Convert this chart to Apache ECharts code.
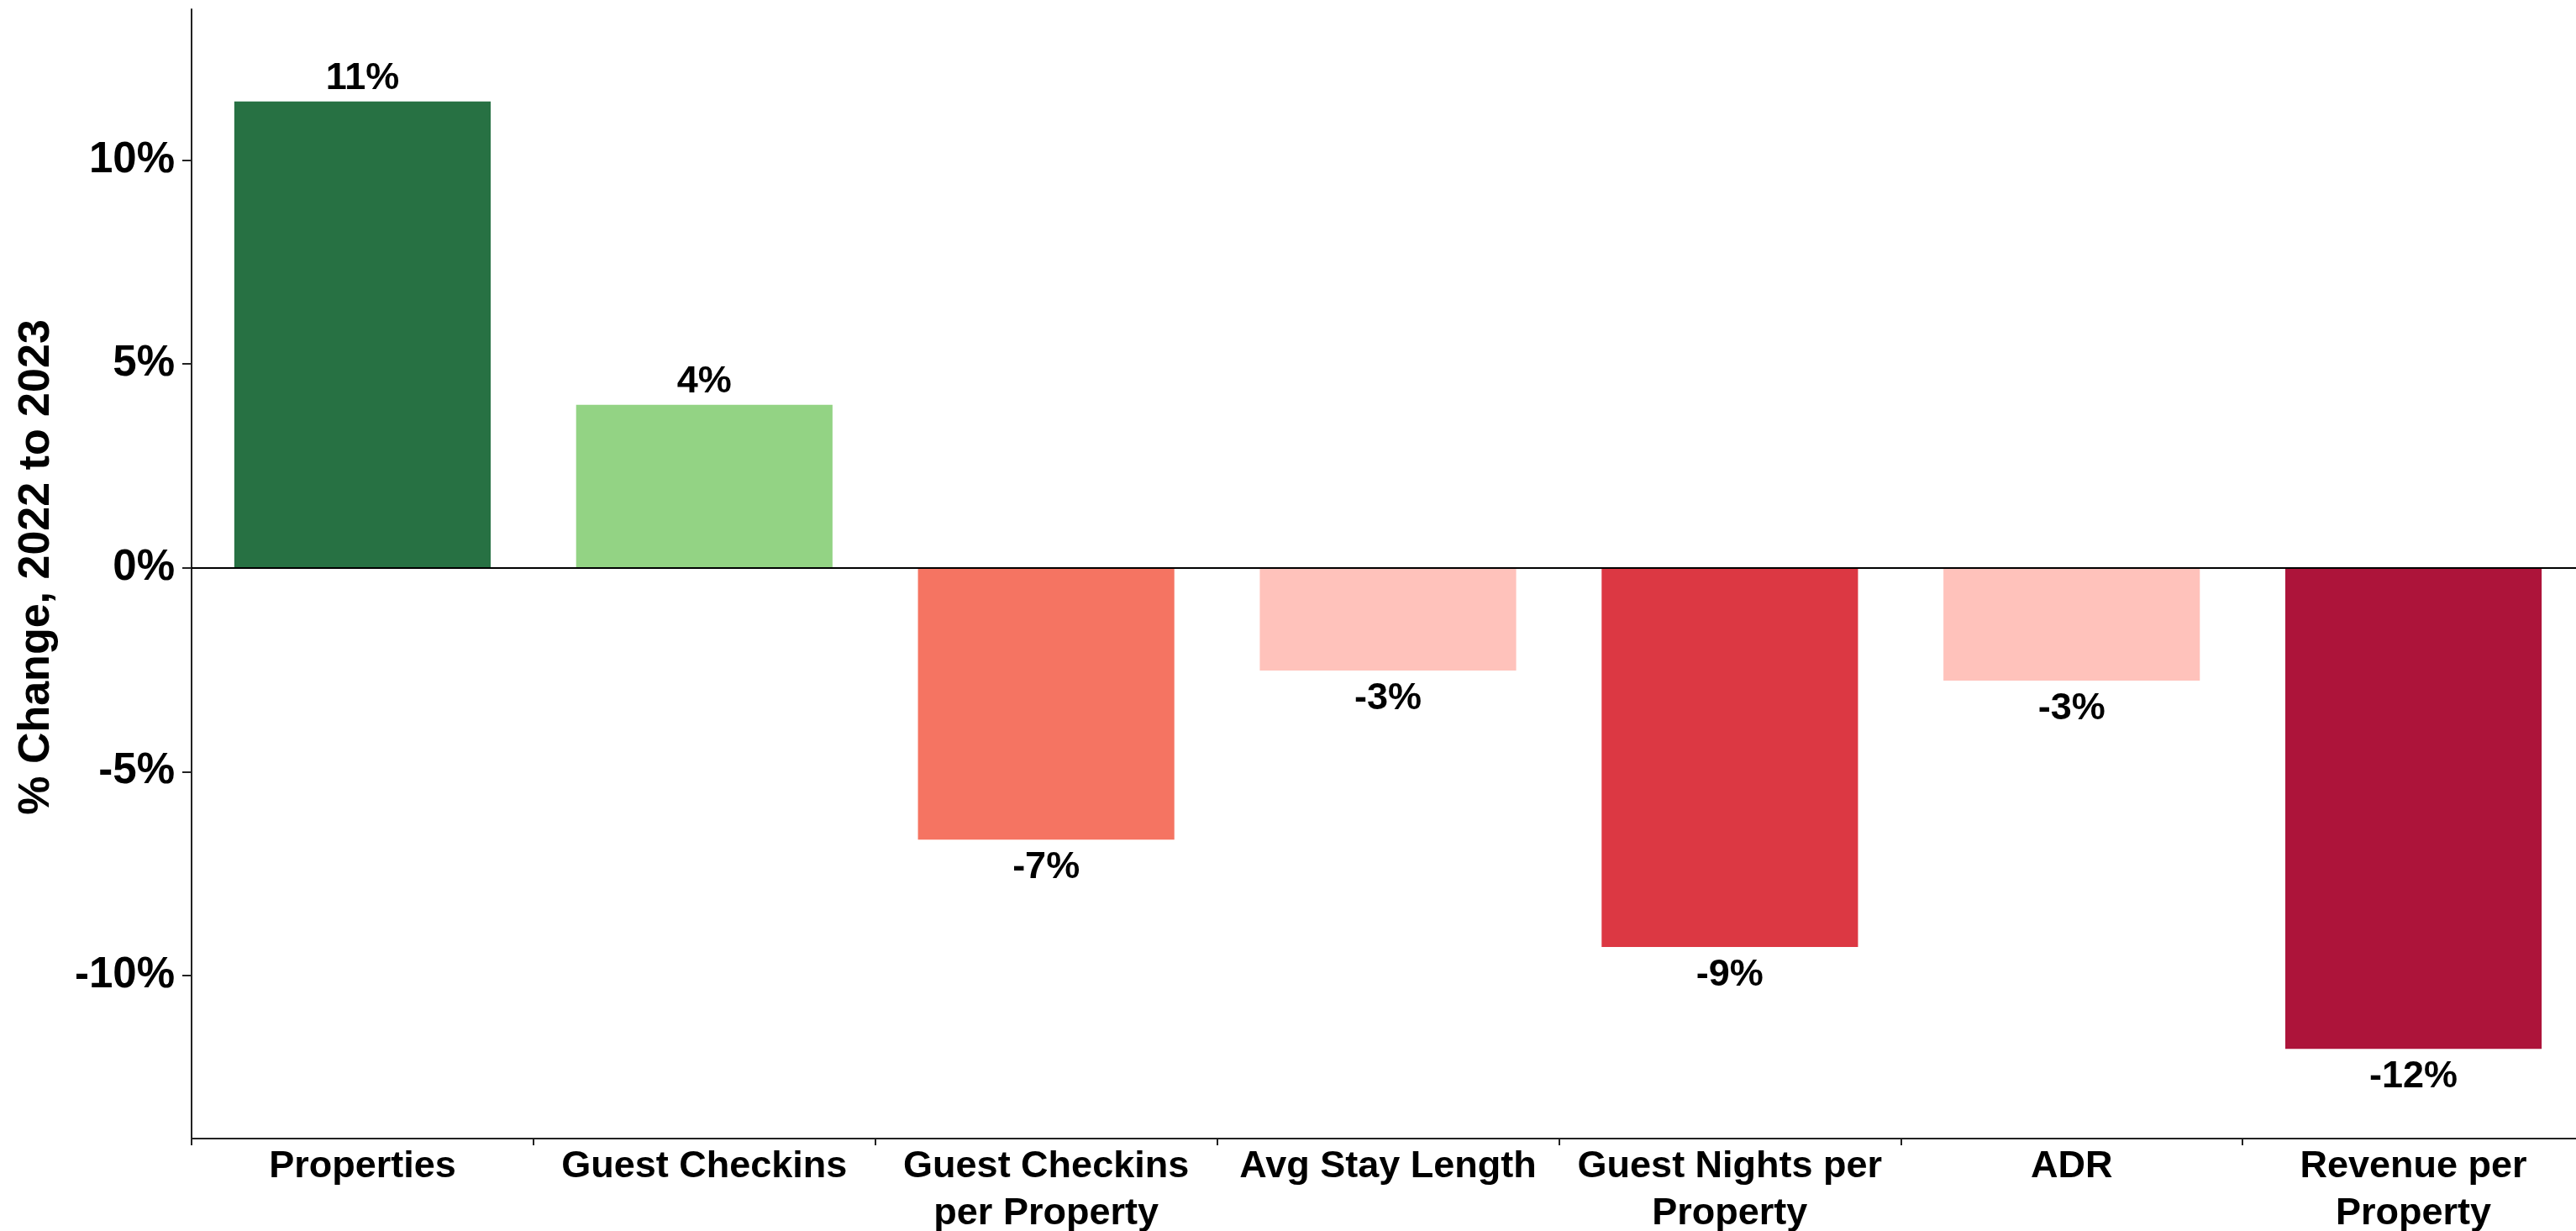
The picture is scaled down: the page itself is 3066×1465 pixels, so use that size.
<!DOCTYPE html>
<html>
<head>
<meta charset="utf-8">
<title>% Change, 2022 to 2023</title>
<script src="https://cdn.jsdelivr.net/npm/echarts@6/dist/echarts.min.js"></script>
<style>
  html, body { margin: 0; padding: 0; background: #ffffff; }
  #chart { width: 3066px; height: 1465px; }
</style>
</head>
<body>
<div id="chart"></div>
<script>
// Year-over-year change by metric
const categories = [
  'Properties',
  'Guest Checkins',
  'Guest Checkins\nper Property',
  'Avg Stay Length',
  'Guest Nights per\nProperty',
  'ADR',
  'Revenue per\nProperty'
];
const changePct = [11.44, 4.0, -6.67, -2.52, -9.3, -2.77, -11.8];
const barColors = ['#277143', '#93d384', '#f57462', '#ffc2bb', '#dc3843', '#ffc2bb', '#ad143a'];
const yTicks = [-10, -5, 0, 5, 10];

const FONT = '"Liberation Sans", Arial, Helvetica, sans-serif';
const AXIS_COLOR = '#222222';

const chart = echarts.init(document.getElementById('chart'), null, { renderer: 'canvas' });

const seriesData = changePct.map((v, i) => ({
  value: v,
  itemStyle: { color: barColors[i] },
  label: {
    position: v >= 0 ? 'top' : 'bottom',
    distance: v >= 0 ? 5 : 11
  }
}));

chart.setOption({
  animation: false,
  backgroundColor: '#ffffff',
  // plot area runs slightly past the right edge of the canvas
  grid: { left: 228, top: 11, width: 2848, height: 1344, containLabel: false, outerBoundsMode: 'none' },
  xAxis: {
    type: 'category',
    data: categories,
    axisLine: { onZero: false, lineStyle: { color: AXIS_COLOR, width: 2 } },
    axisTick: { show: true, length: 8, lineStyle: { color: AXIS_COLOR, width: 2 } },
    axisLabel: {
      interval: 0,
      margin: 6,
      color: '#000000',
      fontFamily: FONT,
      fontWeight: 'bold',
      fontSize: 45,
      lineHeight: 56
    },
    splitLine: { show: false }
  },
  yAxis: {
    type: 'value',
    min: -14,
    max: 13.7,
    name: '% Change, 2022 to 2023',
    nameLocation: 'middle',
    nameGap: 158,
    nameTextStyle: {
      color: '#000000',
      fontFamily: FONT,
      fontWeight: 'bold',
      fontSize: 52,
      padding: [0, 0, 0, 16]
    },
    axisLine: { show: true, lineStyle: { color: AXIS_COLOR, width: 2 } },
    axisTick: { show: true, length: 11, customValues: yTicks, lineStyle: { color: AXIS_COLOR, width: 2 } },
    axisLabel: {
      customValues: yTicks,
      margin: 20,
      color: '#000000',
      fontFamily: FONT,
      fontWeight: 'bold',
      fontSize: 51,
      formatter: v => v + '%'
    },
    splitLine: { show: false }
  },
  series: [{
    type: 'bar',
    data: seriesData,
    barWidth: '75%',
    label: {
      show: true,
      color: '#000000',
      fontFamily: FONT,
      fontWeight: 'bold',
      fontSize: 45,
      formatter: p => Math.round(p.value) + '%'
    },
    markLine: {
      silent: true,
      symbol: 'none',
      label: { show: false },
      lineStyle: { color: '#000000', width: 2, type: 'solid' },
      data: [{ yAxis: 0 }]
    }
  }]
});
</script>
</body>
</html>
